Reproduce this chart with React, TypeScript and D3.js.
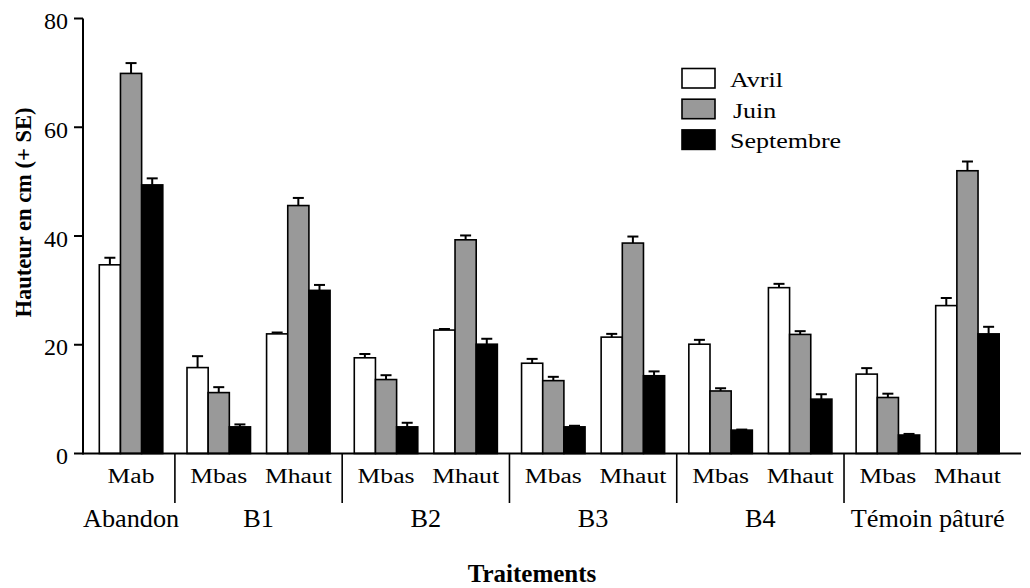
import React from "react";
import * as d3 from "d3";

const treatments = ["Abandon", "B1", "B2", "B3", "B4", "Témoin pâturé"];
const categoryLabels = ["Mab", "Mbas", "Mhaut", "Mbas", "Mhaut", "Mbas", "Mhaut", "Mbas", "Mhaut", "Mbas", "Mhaut"];
const categoryTreatment = [0, 1, 1, 2, 2, 3, 3, 4, 4, 5, 5];
const seriesNames = ["Avril", "Juin", "Septembre"];
const seriesColors = ["#ffffff", "#999999", "#000000"];

const avril = [34.7, 15.8, 22.0, 17.6, 22.7, 16.6, 21.4, 20.1, 30.5, 14.6, 27.2];
const juin = [69.9, 11.2, 45.6, 13.6, 39.3, 13.4, 38.7, 11.5, 21.9, 10.3, 52.0];
const septembre = [49.4, 4.9, 30.0, 4.9, 20.1, 4.9, 14.3, 4.3, 10.0, 3.4, 22.0];
const avrilSE = [1.3, 2.1, 0.25, 0.7, 0.2, 0.8, 0.6, 0.8, 0.7, 1.1, 1.4];
const juinSE = [1.9, 1.0, 1.4, 0.8, 0.8, 0.7, 1.2, 0.5, 0.6, 0.7, 1.7];
const septembreSE = [1.2, 0.45, 1.0, 0.75, 1.0, 0.2, 0.8, 0.1, 0.9, 0.2, 1.3];

const yTicks = [0, 20, 40, 60, 80];
const yTitle = "Hauteur en cm (+ SE)";
const xTitle = "Traitements";

const W = 1030;
const H = 588;
const FONT = "Liberation Serif";

export default function App() {
  const values = [avril, juin, septembre];
  const ses = [avrilSE, juinSE, septembreSE];

  const y = d3.scaleLinear().domain([0, 80]).range([453.5, 18.5]);
  const treatGap = 0.102;
  const slot = (i: number) => i + categoryTreatment[i] * treatGap;
  const lastSlot = slot(categoryLabels.length - 1);
  const xGroup = d3.scaleLinear().domain([0, lastSlot]).range([99.3, 935.7]);
  const groupW = 63.5;
  const xInner = d3.scaleBand<string>().domain(seriesNames).range([0, groupW]).padding(0);
  const bw = xInner.bandwidth();

  const axisX0 = 83;
  const axisX1 = 1021;
  const y0 = y(0);

  const separators: number[] = [];
  for (let t = 0; t < treatments.length - 1; t++) {
    const lastIdx = categoryTreatment.lastIndexOf(t);
    const firstNext = categoryTreatment.indexOf(t + 1);
    const a = xGroup(slot(lastIdx)) + groupW;
    const b = xGroup(slot(firstNext));
    separators.push((a + b) / 2);
  }

  const treatCenters = treatments.map((_, t) => {
    const idx = categoryTreatment.map((c, i) => (c === t ? i : -1)).filter((i) => i >= 0);
    const cs = idx.map((i) => xGroup(slot(i)) + groupW / 2);
    return d3.mean(cs) as number;
  });

  const ts = { fontFamily: FONT };

  return (
    <svg width={W} height={H} style={{ position: "absolute", left: 0, top: 0, background: "#fff" }}>
      <rect x={0} y={0} width={W} height={H} fill="#fff" />
      {categoryLabels.map((lab, i) => {
        const gx = xGroup(slot(i));
        return (
          <g key={"g" + i}>
            {seriesNames.map((s, k) => {
              const v = values[k][i];
              const se = ses[k][i];
              const bx = gx + (xInner(s) as number);
              const cx = bx + bw / 2;
              return (
                <g key={s}>
                  <line x1={cx} x2={cx} y1={y(v)} y2={y(v + se)} stroke="#000" strokeWidth={2} />
                  <line x1={cx - 5.5} x2={cx + 5.5} y1={y(v + se)} y2={y(v + se)} stroke="#000" strokeWidth={2} />
                  <rect x={bx} y={y(v)} width={bw} height={y0 - y(v)} fill={seriesColors[k]} stroke="#000" strokeWidth={1.6} />
                </g>
              );
            })}
            <text transform={`translate(${gx + groupW / 2},483) scale(1.28,1)`} textAnchor="middle" fontSize={20} style={ts} fill="#000">
              {lab}
            </text>
          </g>
        );
      })}

      <line x1={axisX0} x2={axisX0} y1={y(80)} y2={y0 + 1} stroke="#000" strokeWidth={2} />
      {yTicks.map((t) => (
        <g key={"t" + t}>
          <line x1={axisX0 - 9} x2={axisX0} y1={y(t)} y2={y(t)} stroke="#000" strokeWidth={2} />
          <text x={68} y={y(t) + 10.5} textAnchor="end" fontSize={24} style={ts} fill="#000">
            {t}
          </text>
        </g>
      ))}
      <line x1={axisX0} x2={axisX1} y1={y0} y2={y0} stroke="#000" strokeWidth={2} />
      {separators.map((sx, i) => (
        <line key={"s" + i} x1={sx} x2={sx} y1={y0} y2={503} stroke="#000" strokeWidth={1.6} />
      ))}
      {treatments.map((t, i) => (
        <text key={"tr" + i} transform={`translate(${treatCenters[i]},527) scale(1.05,1)`} textAnchor="middle" fontSize={25} style={ts} fill="#000">
          {t}
        </text>
      ))}

      <text x={532} y={582} textAnchor="middle" fontSize={25} fontWeight="bold" style={ts} fill="#000">
        {xTitle}
      </text>
      <text transform="translate(31,212.5) rotate(-90)" textAnchor="middle" fontSize={22.5} fontWeight="bold" style={ts} fill="#000">
        {yTitle}
      </text>

      {seriesNames.map((s, k) => (
        <g key={"l" + s} transform={`translate(682, ${68.5 + k * 30.7})`}>
          <rect x={0} y={0} width={33} height={19.5} fill={seriesColors[k]} stroke="#000" strokeWidth={1.6} />
          <text transform={`translate(${k === 1 ? 51 : 48},18.5) scale(1.3,1)`} fontSize={20} style={ts} fill="#000">
            {s}
          </text>
        </g>
      ))}
    </svg>
  );
}
